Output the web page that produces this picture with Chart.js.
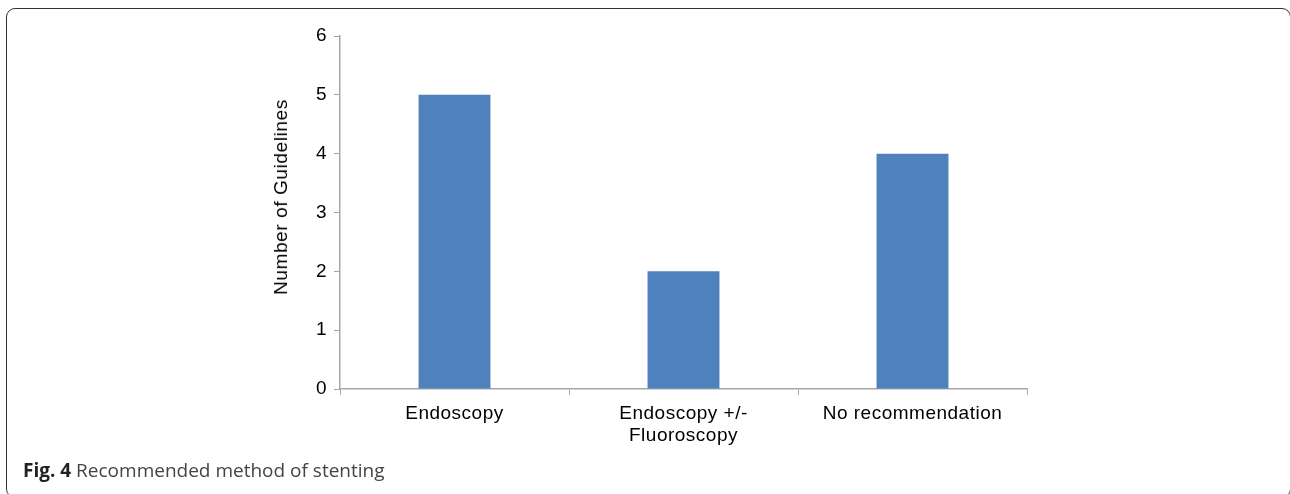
<!DOCTYPE html>
<html>
<head>
<meta charset="utf-8">
<script src="https://cdn.jsdelivr.net/npm/chart.js@4.4.1/dist/chart.umd.min.js"></script>
<style>
    html, body { margin: 0; padding: 0; background: #fff; }
    #wrap { position: relative; width: 1290px; height: 494px; overflow: hidden; }
    #frame {
        position: absolute; left: 6px; top: 8px; width: 1285px; height: 490px;
        border: 1.5px solid #333; border-radius: 9px; box-sizing: border-box;
    }
    #chart { position: absolute; left: 0; top: 0; }
    #yTitle {
        position: absolute; left: 281px; top: 197px;
        transform: translate(-50%, -50%) rotate(-90deg);
        font-family: "Liberation Sans", Arial, sans-serif; font-size: 19px;
        letter-spacing: 0.6px; color: #000; white-space: nowrap;
    }
    #caption {
        position: absolute; left: 23px; top: 457px;
        font-family: "Open Sans", sans-serif; font-size: 19px; color: #444;
        white-space: nowrap;
    }
    #caption b { color: #222; font-weight: 700; }
</style>
</head>
<body>
<div id="wrap">
    <div id="frame"></div>
    <canvas id="chart" width="1290" height="494"></canvas>
    <div id="yTitle">Number of Guidelines</div>
    <div id="caption"><b>Fig. 4</b> Recommended method of stenting</div>
</div>
<script>
// data
const categories = ['Endoscopy', ['Endoscopy +/-', 'Fluoroscopy'], 'No recommendation'];
const guidelineCounts = [5, 2, 4];
const yMin = 0;
const yMax = 6;
const yStep = 1;

const axisGrey = '#a6a6a6';
const barBlue = '#4f81bd';
const labelFont = { family: '"Liberation Sans", Arial, sans-serif', size: 19, lineHeight: 1.2 };

// the original labels run a little wider than Arial
const letterSpacing = {
    id: 'letterSpacing',
    beforeUpdate(chart) { chart.ctx.letterSpacing = '0.5px'; },
    beforeDraw(chart) { chart.ctx.letterSpacing = '0.5px'; }
};

const ctx = document.getElementById('chart').getContext('2d');
new Chart(ctx, {
    type: 'bar',
    data: {
        labels: categories,
        datasets: [{
            label: 'Number of Guidelines',
            data: guidelineCounts,
            backgroundColor: barBlue,
            borderWidth: 0,
            categoryPercentage: 1,
            barPercentage: 0.314
        }]
    },
    options: {
        responsive: false,
        animation: false,
        layout: {
            padding: { left: 267, right: 263, top: 36, bottom: 0 }
        },
        plugins: {
            legend: { display: false },
            tooltip: { enabled: false }
        },
        scales: {
            x: {
                grid: {
                    display: true,
                    drawOnChartArea: false,
                    drawTicks: true,
                    tickLength: 6,
                    color: axisGrey,
                    offset: true
                },
                border: { color: axisGrey, width: 1.5 },
                ticks: {
                    color: '#000',
                    padding: 7,
                    maxRotation: 0,
                    autoSkip: false,
                    font: labelFont
                },
                afterFit(scale) { scale.height = 105; }
            },
            y: {
                min: yMin,
                max: yMax,
                grid: {
                    display: true,
                    drawOnChartArea: false,
                    drawTicks: true,
                    tickLength: 6,
                    color: axisGrey
                },
                border: { color: axisGrey, width: 1.5 },
                ticks: {
                    stepSize: yStep,
                    color: '#000',
                    padding: 7,
                    font: labelFont
                },
                afterFit(scale) { scale.width = 73; }
            }
        }
    },
    plugins: [letterSpacing]
});
</script>
</body>
</html>
